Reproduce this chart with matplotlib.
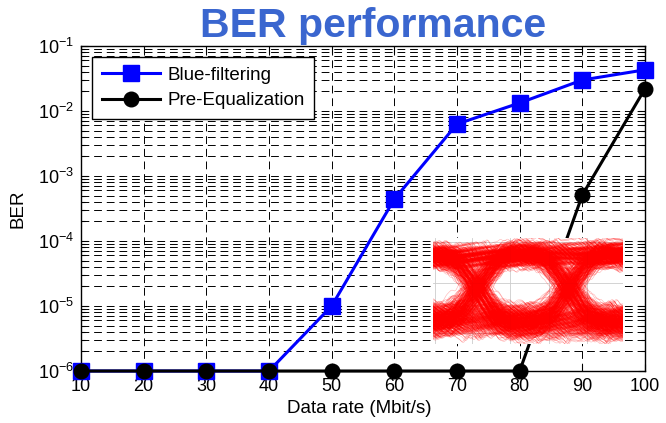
import itertools
import numpy as np
import matplotlib
matplotlib.use("Agg")
import matplotlib.pyplot as plt
from matplotlib.ticker import LogLocator, NullFormatter, FixedLocator

plt.rcParams['font.family'] = ['Liberation Sans', 'DejaVu Sans']

# Measured BER versus data rate
rates = [10, 20, 30, 40, 50, 60, 70, 80, 90, 100]
ber_blue = [1e-6, 1e-6, 1e-6, 1e-6, 1.0e-5, 4.4e-4, 6.3e-3, 1.33e-2, 3.0e-2, 4.3e-2]
ber_preeq = [1e-6, 1e-6, 1e-6, 1e-6, 1e-6, 1e-6, 1e-6, 1e-6, 5.1e-4, 2.2e-2]
series_names = ['Blue-filtering', 'Pre-Equalization']
x_ticks = [10, 20, 30, 40, 50, 60, 70, 80, 90, 100]

W, H = 666, 423
fig = plt.figure(figsize=(W / 100, H / 100), dpi=100)

ax = fig.add_axes([81 / W, 52 / H, 564 / W, 325 / H])
ax.set_yscale('log')
ax.set_xlim(10, 100)
ax.set_ylim(1e-6, 1e-1)
ax.xaxis.set_major_locator(FixedLocator(x_ticks))
ax.yaxis.set_major_locator(LogLocator(base=10, numticks=20))
ax.yaxis.set_minor_locator(LogLocator(base=10, subs=np.arange(2, 10), numticks=20))
ax.yaxis.set_minor_formatter(NullFormatter())

dash = (0, (8, 5))
ax.grid(True, which='both', axis='y', color='black', lw=0.7, ls=dash)
ax.grid(True, which='major', axis='x', color='black', lw=0.7, ls=dash)
ax.set_axisbelow(True)

ax.tick_params(which='both', direction='in', top=True, right=True,
               labelsize=13, width=0.8, colors='black')
ax.tick_params(which='major', length=5, pad=5)
ax.tick_params(which='minor', length=3)
for s in ax.spines.values():
    s.set_linewidth(1.0)
    s.set_color('black')

ax.plot(rates, ber_blue, '-s', color='blue', lw=2.2, ms=11, mfc='blue',
        mec='blue', clip_on=False, zorder=3, label=series_names[0])
ax.plot(rates, ber_preeq, '-o', color='black', lw=2.2, ms=10.5, mfc='black',
        mec='black', clip_on=False, zorder=4, label=series_names[1])

leg = ax.legend(loc='upper left', fontsize=13.5, handlelength=3.1,
                handletextpad=0.4, borderaxespad=0.6, borderpad=0.5,
                labelspacing=0.45, fancybox=False, framealpha=1,
                edgecolor='black')
leg.get_frame().set_linewidth(1.0)

ax.set_xlabel('Data rate (Mbit/s)', fontsize=13.5)
ax.xaxis.set_label_coords(0.493, -0.088)
ax.set_ylabel('BER', fontsize=13.5)
ax.yaxis.set_label_coords(-0.096, 0.5)

fig.text(373 / W, 1 - 37 / H, 'BER performance', ha='center', va='baseline',
         fontsize=29.5, fontweight='bold', color='#3a66cf')

# Eye diagram inset
ins = fig.add_axes([433 / W, (H - 344) / H, 190 / W, 106 / H], zorder=5)
ins.set_facecolor('white')
ins.set_xlim(-0.5, 1.6)
ins.set_ylim(0, 1)
ins.set_xticks([])
ins.set_yticks([])
for s in ins.spines.values():
    s.set_visible(False)
for gx in [-0.48, -0.067, 0.356, 0.78, 1.2]:
    ins.axvline(gx, color='#cccccc', lw=0.6, zorder=0)
for gy in [0.96, 0.575, 0.10]:
    ins.axhline(gy, color='#cccccc', lw=0.6, zorder=0)

t = np.linspace(-0.5, 1.6, 320)
hi, lo = 0.845, 0.21
spread = {hi: 0.115, lo: 0.17}
phi = (np.sqrt(5) - 1) / 2


def ramp(x):
    return 0.5 - 0.5 * np.cos(np.pi * np.clip(x, 0, 1))


n_var = 60
freqs = [2.3, 4.1, 6.7, 9.3, 13.1]
for p, bits in enumerate(itertools.product([0, 1], repeat=4)):
    lv = [hi if b else lo for b in bits[1:]]
    # intersymbol interference: a preceding bit pulls the first level slightly
    isi = 0.04 * (1 if bits[0] else -1)
    for i in range(n_var):
        u1 = ((i + 17 * p) * phi) % 1.0
        u1b = ((i + 7 * p) * 0.5698403 + 0.21) % 1.0
        u2 = ((i + 5 * p) * 0.41421356 + 0.3) % 1.0
        u3 = ((i + 11 * p) * 0.7320508 + 0.1) % 1.0
        jit = 0.09 * (2 * u2 - 1)
        wdt = 0.75 + 0.12 * u3
        s = np.full_like(t, lv[0] + isi * (bits[0] != bits[1]))
        sp = np.full_like(t, spread[lv[0]])
        for k, c in enumerate([0.0, 1.0]):
            r = ramp((t - c - jit) / wdt + 0.5)
            s = s + (lv[k + 1] - lv[k]) * r
            sp = sp + (spread[lv[k + 1]] - spread[lv[k]]) * r
        wig = np.zeros_like(t)
        for m, f in enumerate(freqs):
            ph = ((i * (m + 1) * phi + 0.37 * m + 0.13 * p) % 1.0) * 2 * np.pi
            wig += 0.014 / (1 + 0.3 * m) * np.sin(2 * np.pi * f * t + ph)
        off = sp * (u1 + u1b - 1.0) + wig
        ins.plot(t, s + off, color='red', lw=0.45, alpha=0.28)

fig.savefig('out.png', dpi=100)
